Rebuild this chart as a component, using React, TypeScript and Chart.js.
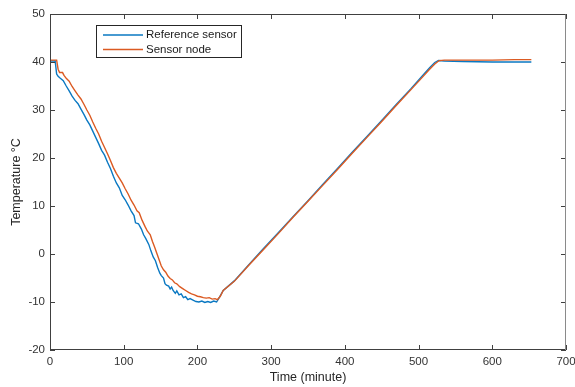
import React, { useEffect, useRef } from "react";
import { Chart, registerables } from "chart.js";

Chart.register(...registerables);

const seriesLabels = ["Reference sensor", "Sensor node"];
const seriesColors = ["#0a78c2", "#db5a22"];

const refTime = [0, 7, 9, 11, 14, 18, 22, 26, 30, 34, 38, 42, 46, 50, 54, 58, 62, 66, 70, 74, 78, 82, 86, 90, 94, 98, 102, 106, 110, 114, 116, 120, 124, 127, 130, 134, 137, 140, 143, 146, 149, 151, 154, 156, 158, 161, 163, 165, 167, 170, 172, 175, 178, 181, 184, 187, 190, 194, 198, 202, 206, 210, 214, 218, 222, 226, 230, 235, 250, 270, 290, 310, 330, 350, 370, 390, 410, 430, 450, 470, 490, 505, 515, 522, 527, 535, 560, 600, 630, 653];
const refTemp = [40.2, 40.2, 37.5, 37.0, 36.6, 36.1, 35.0, 34.0, 32.9, 32.0, 31.3, 30.2, 29.1, 27.9, 26.9, 25.6, 24.3, 23.0, 21.6, 20.6, 19.1, 17.8, 16.2, 14.8, 13.8, 12.2, 11.3, 10.2, 9.0, 8.0, 6.5, 6.3, 5.2, 4.0, 3.2, 2.0, 0.6, -0.6, -1.4, -2.8, -4.0, -4.5, -5.0, -6.2, -6.5, -6.7, -7.3, -6.9, -7.6, -8.2, -7.7, -8.5, -8.3, -9.1, -8.9, -9.5, -9.3, -9.6, -9.9, -10.0, -9.8, -10.1, -9.9, -10.1, -9.8, -10.0, -9.0, -7.6, -5.6, -2.2, 1.2, 4.5, 7.8, 11.1, 14.5, 17.8, 21.2, 24.5, 27.8, 31.2, 34.5, 37.1, 38.8, 39.9, 40.3, 40.2, 40.1, 40.0, 40.0, 40.0];

const nodeTime = [0, 9, 11, 13, 17, 19, 22, 26, 30, 34, 38, 42, 46, 50, 54, 58, 62, 66, 70, 74, 78, 82, 86, 90, 94, 98, 102, 106, 110, 114, 118, 121, 125, 129, 132, 136, 139, 142, 145, 148, 151, 154, 157, 160, 163, 166, 169, 172, 176, 180, 184, 188, 192, 196, 200, 204, 208, 212, 216, 220, 224, 227, 231, 235, 250, 270, 290, 310, 330, 350, 370, 390, 410, 430, 450, 470, 490, 505, 515, 522, 528, 535, 560, 600, 630, 653];
const nodeTemp = [40.4, 40.4, 38.5, 37.8, 37.8, 37.2, 36.6, 36.0, 34.9, 34.0, 33.1, 32.3, 31.2, 30.0, 28.9, 27.5, 26.2, 25.0, 23.5, 22.2, 20.9, 19.5, 18.0, 16.8, 15.8, 14.8, 13.6, 12.5, 11.2, 10.2, 9.0, 8.6, 7.0, 5.7, 4.8, 4.0, 2.6, 1.4, 0.1, -1.2, -2.5, -3.3, -3.8, -4.6, -5.1, -5.4, -6.0, -6.2, -6.8, -7.2, -7.6, -8.0, -8.3, -8.5, -8.8, -8.9, -9.1, -9.2, -9.1, -9.4, -9.3, -9.5, -8.8, -7.6, -5.7, -2.3, 1.0, 4.3, 7.7, 11.0, 14.3, 17.6, 21.0, 24.3, 27.6, 31.0, 34.3, 36.8, 38.5, 39.6, 40.3, 40.4, 40.4, 40.4, 40.5, 40.5];

const xTitle = "Time (minute)";
const yTitle = "Temperature °C";
const xMin = 0, xMax = 700, xStep = 100;
const yMin = -20, yMax = 50, yStep = 10;

const FONT = "Liberation Sans, Arial, Helvetica, sans-serif";

const framePlugin = {
  id: "frameTicksLegend",
  afterDraw(chart: any) {
    const { ctx, chartArea: a, scales } = chart;
    const xs = scales.x, ys = scales.y;
    ctx.save();
    ctx.lineWidth = 1;
    ctx.strokeStyle = "#404040";
    const tl = 5;
    ctx.beginPath();
    for (let v = xMin; v <= xMax; v += xStep) {
      const px = Math.round(xs.getPixelForValue(v)) + 0.5;
      ctx.moveTo(px, a.bottom); ctx.lineTo(px, a.bottom - tl);
      ctx.moveTo(px, a.top); ctx.lineTo(px, a.top + tl);
    }
    for (let v = yMin; v <= yMax; v += yStep) {
      const py = Math.round(ys.getPixelForValue(v)) + 0.5;
      ctx.moveTo(a.left, py); ctx.lineTo(a.left + tl, py);
      ctx.moveTo(a.right, py); ctx.lineTo(a.right - tl, py);
    }
    ctx.stroke();
    const L = Math.round(a.left) + 0.5, R = Math.round(a.right) - 0.5;
    const T = Math.round(a.top) + 0.5, B = Math.round(a.bottom) - 0.5;
    ctx.strokeStyle = "#404040";
    ctx.beginPath();
    ctx.moveTo(R, T); ctx.lineTo(L, T); ctx.lineTo(L, B); ctx.lineTo(R, B);
    ctx.stroke();
    ctx.strokeStyle = "#8a8a8a";
    ctx.beginPath();
    ctx.moveTo(R, T); ctx.lineTo(R, B);
    ctx.stroke();

    const bx = 96.5, by = 25.5, bw = 145, bh = 32;
    ctx.fillStyle = "#ffffff";
    ctx.fillRect(bx, by, bw, bh);
    ctx.strokeStyle = "#262626";
    ctx.strokeRect(bx, by, bw, bh);
    ctx.font = `11.5px ${FONT}`;
    ctx.textBaseline = "middle";
    ctx.textAlign = "left";
    chart.data.datasets.forEach((ds: any, i: number) => {
      const yy = 35 + i * 14.5;
      ctx.strokeStyle = ds.borderColor;
      ctx.lineWidth = 1.6;
      ctx.beginPath();
      ctx.moveTo(103, yy); ctx.lineTo(143, yy);
      ctx.stroke();
      ctx.fillStyle = "#1a1a1a";
      ctx.fillText(ds.label, 146, yy);
    });
    ctx.restore();
  },
};

export default function App() {
  const ref = useRef<HTMLCanvasElement | null>(null);
  useEffect(() => {
    if (!ref.current) return;
    const mk = (t: number[], v: number[]) => t.map((x, i) => ({ x, y: v[i] }));
    const chart = new Chart(ref.current, {
      type: "line",
      data: {
        datasets: [
          {
            label: seriesLabels[0],
            data: mk(refTime, refTemp),
            borderColor: seriesColors[0],
            backgroundColor: seriesColors[0],
            borderWidth: 1.4,
            pointRadius: 0,
            tension: 0,
            order: 2,
          },
          {
            label: seriesLabels[1],
            data: mk(nodeTime, nodeTemp),
            borderColor: seriesColors[1],
            backgroundColor: seriesColors[1],
            borderWidth: 1.4,
            pointRadius: 0,
            tension: 0,
            order: 1,
          },
        ],
      },
      options: {
        animation: false,
        responsive: false,
        maintainAspectRatio: false,
        layout: { padding: { top: 14, right: 9, left: 0, bottom: 0 } },
        plugins: { legend: { display: false }, tooltip: { enabled: false } },
        scales: {
          x: {
            type: "linear",
            min: xMin,
            max: xMax,
            afterFit: (s: any) => { s.height = 37; s.paddingLeft = 0; s.paddingRight = 0; },
            grid: { display: false, drawTicks: false },
            border: { display: false },
            ticks: { stepSize: xStep, padding: 5, color: "#333333", font: { family: FONT, size: 11.5 } },
            title: { display: true, text: xTitle, color: "#262626", font: { family: FONT, size: 12.5 }, padding: { top: 0, bottom: 2 } },
          },
          y: {
            type: "linear",
            min: yMin,
            max: yMax,
            afterFit: (s: any) => { s.width = 50; s.paddingTop = 0; s.paddingBottom = 0; },
            grid: { display: false, drawTicks: false },
            border: { display: false },
            ticks: { stepSize: yStep, padding: 5, color: "#333333", font: { family: FONT, size: 11.5 } },
            title: { display: true, text: yTitle, color: "#262626", font: { family: FONT, size: 12.5 }, padding: { top: 9, bottom: 0 } },
          },
        },
      },
      plugins: [framePlugin],
    });
    return () => chart.destroy();
  }, []);
  return (
    <div style={{ position: "fixed", left: 0, top: 0, width: 575, height: 387, background: "#fff" }}>
      <canvas ref={ref} width={575} height={387} style={{ width: 575, height: 387, display: "block" }} />
    </div>
  );
}
